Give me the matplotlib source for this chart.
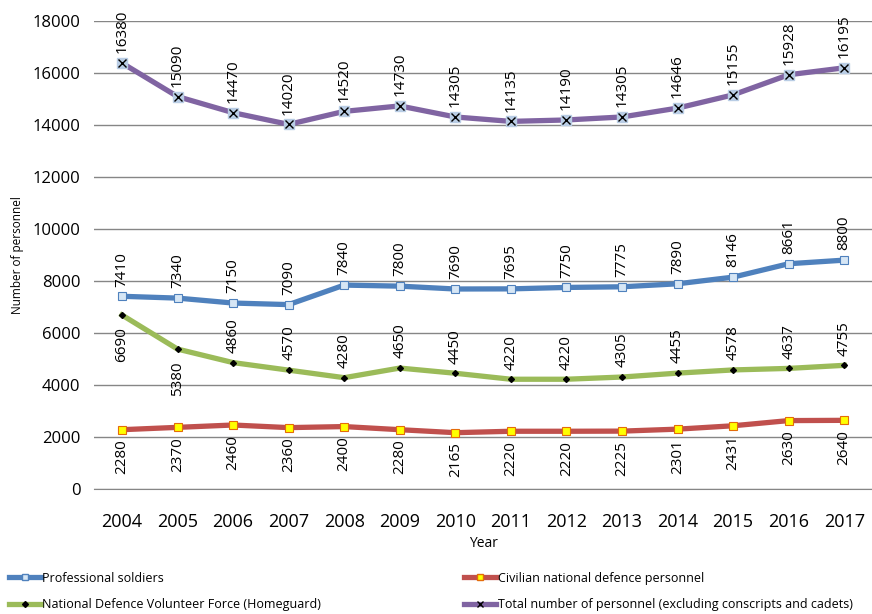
import numpy as np
import matplotlib.pyplot as plt
from matplotlib.lines import Line2D

years = [2004, 2005, 2006, 2007, 2008, 2009, 2010, 2011, 2012, 2013, 2014, 2015, 2016, 2017]
professional = [7410, 7340, 7150, 7090, 7840, 7800, 7690, 7695, 7750, 7775, 7890, 8146, 8661, 8800]
civilian = [2280, 2370, 2460, 2360, 2400, 2280, 2165, 2220, 2220, 2225, 2301, 2431, 2630, 2640]
homeguard = [6690, 5380, 4860, 4570, 4280, 4650, 4450, 4220, 4220, 4305, 4455, 4578, 4637, 4755]
total = [16380, 15090, 14470, 14020, 14520, 14730, 14305, 14135, 14190, 14305, 14646, 15155, 15928, 16195]

plt.rcParams['font.family'] = ['Open Sans', 'DejaVu Sans']

fig = plt.figure(figsize=(8.72, 6.14), dpi=100)
ax = fig.add_axes([0.108, 0.2036, 0.892, 0.7624])

x = np.arange(len(years))
blue, red, green, purple = '#4F81BD', '#C0504D', '#9BBB59', '#8064A2'

ax.plot(x, professional, color=blue, lw=3.8, marker='s', ms=6, mfc='#D6E6F5', mec=blue, mew=0.8, zorder=3)
ax.plot(x, civilian, color=red, lw=3.8, marker='s', ms=6, mfc='#FFFF00', mec='#E46C0A', mew=0.8, zorder=3)
ax.plot(x, homeguard, color=green, lw=3.8, marker='D', ms=3, mfc='black', mec='black', zorder=3)
ax.plot(x, total, color=purple, lw=3.8, zorder=3)
ax.plot(x, total, ls='none', marker='s', ms=6.5, mfc='#B9CDE5', mec='#B9CDE5', zorder=4)
ax.plot(x, total, ls='none', marker='x', ms=5.5, mec='black', mew=1.0, zorder=5)

lab_kw = dict(rotation=90, fontsize=11, ha='center')
for i in range(len(years)):
    ax.annotate(str(total[i]), (x[i], total[i]), xytext=(0, 7), textcoords='offset points', va='bottom', **lab_kw)
    ax.annotate(str(professional[i]), (x[i], professional[i]), xytext=(0, 7), textcoords='offset points', va='bottom', **lab_kw)
    ax.annotate(str(civilian[i]), (x[i], civilian[i]), xytext=(0, -7), textcoords='offset points', va='top', **lab_kw)
    if i < 2:
        ax.annotate(str(homeguard[i]), (x[i], homeguard[i]), xytext=(0, -9), textcoords='offset points', va='top', **lab_kw)
    else:
        ax.annotate(str(homeguard[i]), (x[i], homeguard[i]), xytext=(0, 7), textcoords='offset points', va='bottom', **lab_kw)

ax.set_xlim(-0.5, len(years) - 0.5)
ax.set_ylim(0, 18000)
ax.set_yticks(np.arange(0, 18001, 2000))
ax.set_xticks(x)
ax.set_xticklabels([str(y) for y in years], fontsize=13)
ax.tick_params(axis='y', labelsize=12, length=0, pad=10)
ax.tick_params(axis='x', length=0, pad=17)
ax.grid(axis='y', color='#868686', lw=1)
ax.set_axisbelow(True)
for s in ['top', 'right', 'left']:
    ax.spines[s].set_visible(False)
ax.spines['bottom'].set_color('#868686')

ax.set_xlabel('Year', fontsize=10, labelpad=4)
ax.set_ylabel('Number of personnel', fontsize=8.5, labelpad=6)

h_prof = Line2D([], [], color=blue, lw=3.8, marker='s', ms=5, mfc='#D6E6F5', mec=blue)
h_civ = Line2D([], [], color=red, lw=3.8, marker='s', ms=5, mfc='#FFFF00', mec='#E46C0A')
h_home = Line2D([], [], color=green, lw=3.8, marker='D', ms=3, mfc='black', mec='black')
h_tot = Line2D([], [], color=purple, lw=3.8, marker='x', ms=5, mec='black')
leg_kw = dict(loc='lower left', frameon=False, fontsize=9, handlelength=2.6,
              handletextpad=0.1, labelspacing=1.1, borderaxespad=0.3)
fig.legend([h_prof, h_home], ['Professional soldiers', 'National Defence Volunteer Force (Homeguard)'],
           bbox_to_anchor=(0.0, -0.01), **leg_kw)
fig.legend([h_civ, h_tot], ['Civilian national defence personnel',
                            'Total number of personnel (excluding conscripts and cadets)'],
           bbox_to_anchor=(0.522, -0.01), **leg_kw)

fig.savefig('out.png', dpi=100)
